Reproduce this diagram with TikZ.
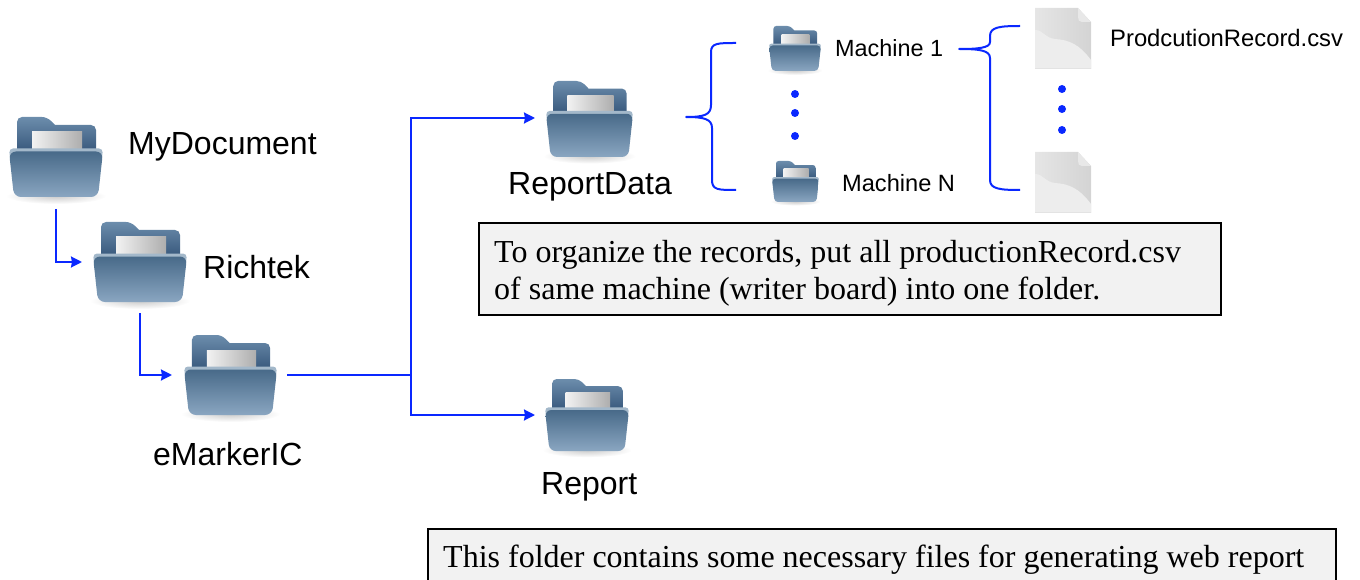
\documentclass[tikz,border=0pt]{standalone}
\usepackage{fontspec}
\setmainfont{Liberation Sans}
\newfontfamily\serifbox{Liberation Serif}
\usetikzlibrary{arrows.meta,calc}
\definecolor{wire}{HTML}{0A28FF}
\definecolor{frontTop}{HTML}{486A89}
\definecolor{frontBot}{HTML}{8AA6C1}
\definecolor{backTop}{HTML}{6C8DAC}
\definecolor{backBot}{HTML}{2F4F74}
\definecolor{rimc}{HTML}{A3B8CA}
\definecolor{boxfill}{HTML}{F2F2F2}
\tikzset{
  conn/.style={draw=wire,line width=2pt,-{Stealth[length=11pt,width=11pt,inset=1pt]}},
  plainwire/.style={draw=wire,line width=2pt},
  bracewire/.style={draw=wire,line width=2pt,line join=round},
  ddot/.style={circle,fill=wire,inner sep=0pt,minimum size=8pt},
  anchorbox/.style={inner sep=0pt,outer sep=0pt,rectangle},
  lbl/.style={inner sep=0pt,anchor=base west,text=black},
  notebox/.style={draw=black,line width=1.7pt,fill=boxfill,inner sep=0pt,outer sep=0pt,rectangle,anchor=north west},
}
% folder: name, left, top, width, height
\newcommand{\myfolder}[5]{%
  \node[anchorbox,minimum width=#4pt,minimum height=#5pt] (#1) at ({#2+#4/2},{#3+#5/2}) {};
  \begin{scope}[shift={(#2,#3)},x={#4/94*1pt},y={-#5/80*1pt}]
    \shade[inner color=black!20,outer color=white] (47,79) ellipse [x radius=50,y radius=8];
    \shade[top color=backTop,bottom color=backBot,rounded corners=#4/94*5pt]
      (8,40) -- (8,0) -- (38,0) [sharp corners] -- (46,8) [rounded corners=#4/94*5pt] -- (87,8) -- (87,40) -- cycle;
    \shade[left color=black!5,right color=black!32] (23,15) rectangle (73,34);
    \fill[rimc,rounded corners=#4/94*4pt] (0,31.5) -- (94,31.5) -- (92,50) -- (2,50) -- cycle;
    \shade[top color=frontTop,bottom color=frontBot,rounded corners=#4/94*7pt]
      (0,34.5) -- (94,34.5) -- (89,80) -- (5,80) -- cycle;
  \end{scope}
}
% file: name, left, top, width, height
\newcommand{\myfile}[5]{%
  \node[anchorbox,minimum width=#4pt,minimum height=#5pt] (#1) at ({#2+#4/2},{#3+#5/2}) {};
  \begin{scope}[shift={(#2,#3)},x={#4/56*1pt},y={-#5/61*1pt}]
    \shade[left color=black!10,right color=black!17]
      (0,0) -- (43,0) -- (56,14) -- (56,61) -- (0,61) -- cycle;
    \fill[black!7] (0,22) .. controls (8,22) and (10,30) .. (20,31)
      .. controls (34,32) and (44,36) .. (56,52) -- (56,61) -- (0,61) -- cycle;
    \fill[black!9] (43,0) -- (56,14) -- (47,14) .. controls (44,14) and (43,12) .. (43,9) -- cycle;
    \fill[black!11] (0,60) rectangle (56,61);
  \end{scope}
}
\begin{document}
\begin{tikzpicture}[x=1pt,y=-1pt]
\useasboundingbox (0,0) rectangle (1360,580);
\clip (0,0) rectangle (1360,580);

\myfolder{mydoc}{9}{117}{94}{80}
\myfolder{richtek}{93}{222}{94}{80}
\myfolder{emarker}{184}{335}{93}{80}
\myfolder{reportdata}{546}{81}{87}{76}
\myfolder{report}{545}{379}{84}{72}
\myfolder{machA}{769}{26}{52}{45}
\myfolder{machN}{772}{161}{47}{41}
\myfile{fileA}{1035}{8}{56}{61}
\myfile{fileN}{1035}{152}{56}{61}

\node[lbl,font=\fontsize{32}{36}\selectfont] (t1) at (128,155) {MyDocument};
\node[lbl,font=\fontsize{32}{36}\selectfont] (t2) at (203,278) {Richtek};
\node[lbl,font=\fontsize{32}{36}\selectfont] (t3) at (153,465) {eMarkerIC};
\node[lbl,font=\fontsize{32}{36}\selectfont] (t4) at (508,195) {ReportData};
\node[lbl,font=\fontsize{32}{36}\selectfont] (t5) at (541,494) {Report};
\node[lbl,font=\fontsize{23.4}{26}\selectfont] (t6) at (835,57) {Machine 1};
\node[lbl,font=\fontsize{23.6}{26}\selectfont] (t7) at (842,192) {Machine N};
\node[lbl,font=\fontsize{23.8}{26}\selectfont] (t8) at (1110,47) {ProdcutionRecord.csv};

\node[notebox,minimum width=742pt,minimum height=92pt] (note1) at (479,223) {};
\node[lbl,font=\serifbox\fontsize{32}{36}\selectfont] (n1a) at (494,262) {To organize the records, put all productionRecord.csv};
\node[lbl,font=\serifbox\fontsize{32}{36}\selectfont] (n1b) at (494,299) {of same machine (writer board) into one folder.};

\node[notebox,minimum width=908pt,minimum height=92pt] (note2) at (428,529) {};
\node[lbl,font=\serifbox\fontsize{32}{36}\selectfont] (n2a) at (443,567) {This folder contains some necessary files for generating web report};

% connectors
\draw[conn] ([yshift=-12pt]mydoc.south) |- ([xshift=-11pt]richtek.west);
\draw[conn] ([yshift=-11pt]richtek.south) |- ([xshift=-12pt]emarker.west);
\coordinate (junction) at (411,375);
\draw[plainwire] ([xshift=10pt]emarker.east) -- (junction);
\draw[conn] (junction) |- ([xshift=-11pt,yshift=1pt]reportdata.west);
\draw[conn] (junction) |- ([xshift=-10pt]report.west);

% braces
\coordinate (b1tip) at (686,117);
\coordinate (b1top) at (736,43);
\coordinate (b1bot) at (736,190);
\draw[bracewire] (b1top) .. controls (718,43) and (711,43) .. (711,52)
  -- (711,105) .. controls (711,115) and (704,117) .. (b1tip)
  .. controls (704,117) and (712,119) .. (712,128)
  -- (712,180) .. controls (712,190) and (718,190) .. (b1bot);
\coordinate (b2tip) at (959,49);
\coordinate (b2top) at (1020,26);
\coordinate (b2bot) at (1020,190);
\draw[bracewire] (b2top) .. controls (1000,26) and (990,27) .. (990,36)
  -- (990,42) .. controls (990,48) and (978,49) .. (b2tip)
  .. controls (978,49) and (990,50) .. (990,58)
  -- (990,180) .. controls (990,189) and (1000,190) .. (b2bot);

% dots
\node[ddot] (d1) at (795,94) {};
\node[ddot] (d2) at (795,113) {};
\node[ddot] (d3) at (795,136) {};
\node[ddot] (d4) at (1062,89) {};
\node[ddot] (d5) at (1062,109) {};
\node[ddot] (d6) at (1062,130) {};
\end{tikzpicture}
\end{document}
